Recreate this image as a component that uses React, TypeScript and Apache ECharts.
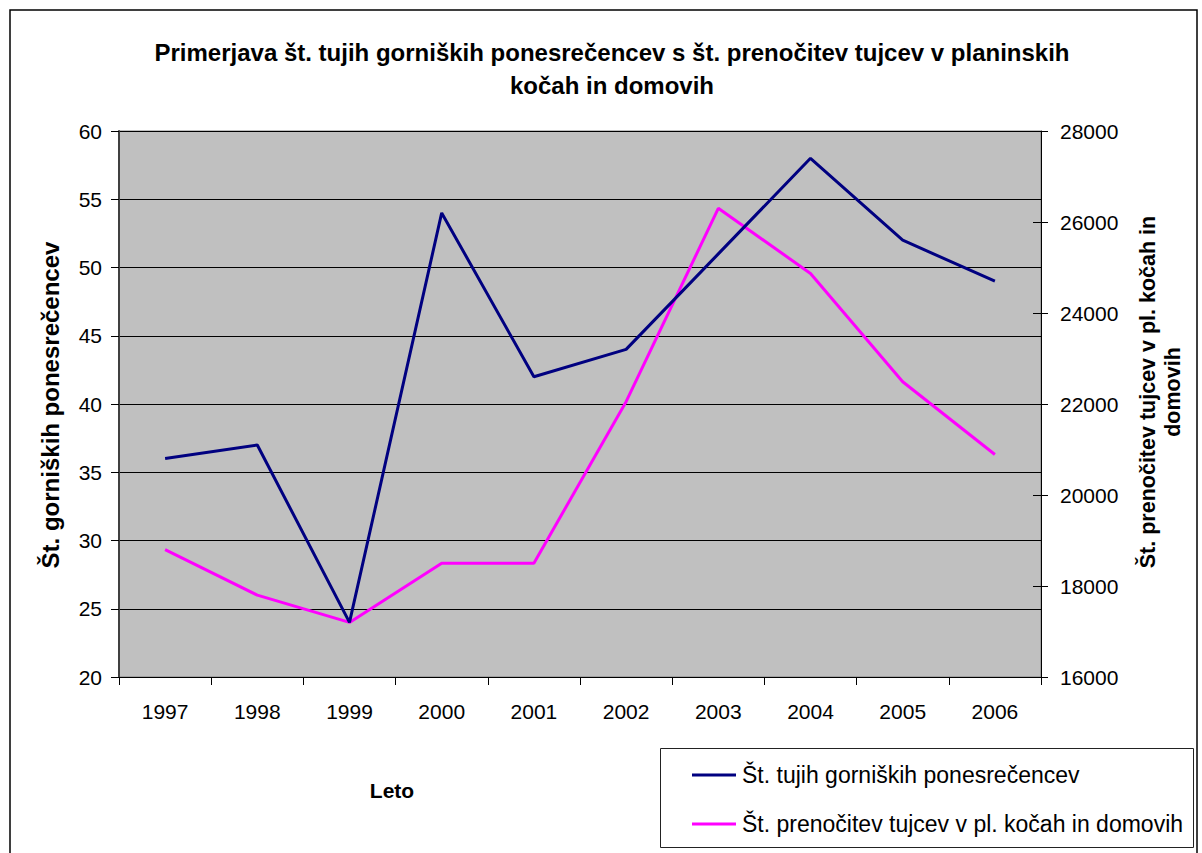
import React, { useEffect, useRef } from "react";
import * as echarts from "echarts";

const years = ["1997", "1998", "1999", "2000", "2001", "2002", "2003", "2004", "2005", "2006"];
const injured = [36, 37, 24, 54, 42, 44, 51, 58, 52, 49];
const overnight = [18800, 17800, 17200, 18500, 18500, 22050, 26300, 24870, 22490, 20890];

const leftMin = 20;
const leftMax = 60;
const leftStep = 5;
const rightMin = 16000;
const rightMax = 28000;
const rightStep = 2000;

const nameInjured = "Št. tujih gorniških ponesrečencev";
const nameOvernight = "Št. prenočitev tujcev v pl. kočah in domovih";
const titleText =
  "Primerjava št. tujih gorniških ponesrečencev s št. prenočitev tujcev v planinskih\nkočah in domovih";
const leftAxisName = "Št. gorniških ponesrečencev";
const rightAxisName = "Št. prenočitev tujcev v pl. kočah in\ndomovih";
const xAxisName = "Leto";

const FONT = "'Liberation Sans', Arial, Helvetica, sans-serif";

export default function App() {
  const ref = useRef<HTMLDivElement>(null);

  useEffect(() => {
    if (!ref.current) return;
    const chart = echarts.init(ref.current, undefined, { renderer: "svg" });
    chart.setOption({
      animation: false,
      backgroundColor: "#ffffff",
      textStyle: { fontFamily: FONT, color: "#000" },
      title: {
        text: titleText,
        left: 612,
        top: 36,
        textAlign: "center",
        padding: 0,
        textStyle: {
          fontFamily: FONT,
          fontSize: 24,
          fontWeight: "bold",
          lineHeight: 33,
          color: "#000",
        },
      },
      grid: {
        left: 119,
        top: 131,
        right: 161,
        bottom: 176,
        show: true,
        backgroundColor: "#c0c0c0",
        borderColor: "#808080",
        borderWidth: 1,
        containLabel: false,
      },
      legend: {
        orient: "vertical",
        left: 692,
        top: 762,
        padding: 0,
        itemWidth: 44,
        itemHeight: 3,
        icon: "rect",
        itemGap: 23,
        textStyle: { fontFamily: FONT, fontSize: 23, lineHeight: 26, color: "#000", padding: [0, 0, 0, 1] },
        data: [nameInjured, nameOvernight],
      },
      xAxis: {
        type: "category",
        data: years,
        boundaryGap: true,
        axisLine: { show: true, lineStyle: { color: "#000", width: 1 } },
        axisTick: { show: true, inside: false, length: 8, lineStyle: { color: "#000" } },
        axisLabel: { fontFamily: FONT, fontSize: 21, color: "#000", margin: 24 },
        splitLine: { show: false },
      },
      yAxis: [
        {
          type: "value",
          position: "left",
          min: leftMin,
          max: leftMax,
          interval: leftStep,
          axisLine: { show: true, lineStyle: { color: "#404040", width: 2 } },
          axisTick: { show: true, length: 8, lineStyle: { color: "#000" } },
          axisLabel: { fontFamily: FONT, fontSize: 21, color: "#000", margin: 17 },
          splitLine: { show: true, lineStyle: { color: "#000", width: 1 } },
        },
        {
          type: "value",
          position: "right",
          min: rightMin,
          max: rightMax,
          interval: rightStep,
          axisLine: { show: true, lineStyle: { color: "#000", width: 1 } },
          axisTick: { show: true, length: 7, lineStyle: { color: "#000" } },
          axisLabel: {
            fontFamily: FONT,
            fontSize: 21,
            color: "#000",
            margin: 19,
            formatter: (v: number) => String(v),
          },
          splitLine: { show: false },
        },
        {
          type: "value",
          position: "right",
          min: rightMin,
          max: rightMax,
          interval: rightStep,
          axisLine: { show: false },
          axisTick: { show: true, inside: true, length: 8, lineStyle: { color: "#000" } },
          axisLabel: { show: false },
          splitLine: { show: false },
        },
      ],
      series: [
        {
          name: nameInjured,
          type: "line",
          yAxisIndex: 0,
          data: injured,
          symbol: "none",
          lineStyle: { color: "#000080", width: 3 },
          itemStyle: { color: "#000080" },
          z: 3,
        },
        {
          name: nameOvernight,
          type: "line",
          yAxisIndex: 1,
          data: overnight,
          symbol: "none",
          lineStyle: { color: "#ff00ff", width: 3 },
          itemStyle: { color: "#ff00ff" },
          z: 2,
        },
      ],
      graphic: [
        {
          type: "rect",
          shape: { x: 10, y: 10, width: 1187, height: 900 },
          style: { fill: "none", stroke: "#000", lineWidth: 1.5 },
          silent: true,
        },
        {
          type: "rect",
          shape: { x: 660.5, y: 748.5, width: 533, height: 99 },
          style: { fill: "none", stroke: "#222", lineWidth: 1 },
          silent: true,
        },
        {
          type: "text",
          x: 50,
          y: 405,
          rotation: Math.PI / 2,
          style: {
            text: leftAxisName,
            fontFamily: FONT,
            fontSize: 24,
            fontWeight: "bold",
            fill: "#000",
            align: "center",
            verticalAlign: "middle",
          },
        },
        {
          type: "text",
          x: 1160,
          y: 392,
          rotation: Math.PI / 2,
          style: {
            text: rightAxisName,
            fontFamily: FONT,
            fontSize: 21.5,
            fontWeight: "bold",
            lineHeight: 25,
            fill: "#000",
            align: "center",
            verticalAlign: "middle",
          },
        },
        {
          type: "text",
          x: 392,
          y: 790,
          style: {
            text: xAxisName,
            fontFamily: FONT,
            fontSize: 21,
            fontWeight: "bold",
            fill: "#000",
            align: "center",
            verticalAlign: "middle",
          },
        },
      ],
    });
    return () => chart.dispose();
  }, []);

  return (
    <div
      ref={ref}
      style={{ position: "absolute", left: 0, top: 0, width: 1202, height: 853 }}
    />
  );
}
